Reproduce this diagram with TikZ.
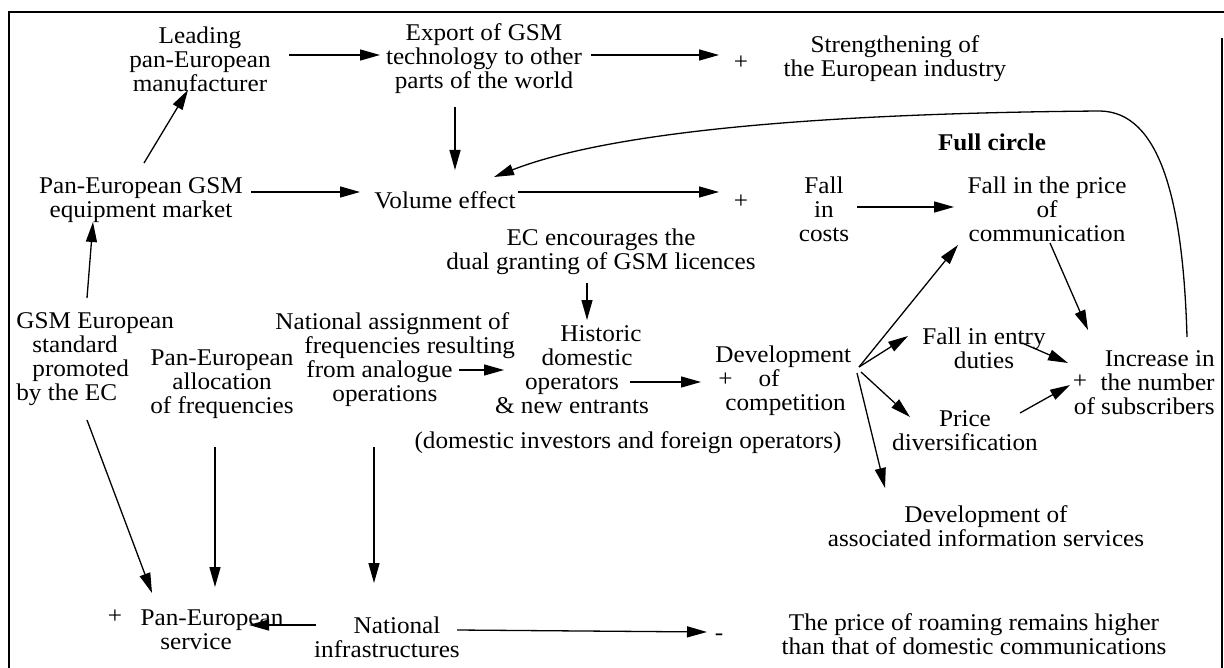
\documentclass[tikz,border=0pt]{standalone}
\usepackage{fontspec}
\setmainfont{Liberation Serif}[FakeStretch=1.05]
\usetikzlibrary{arrows.meta}

\tikzset{
  txt/.style={align=center,inner sep=1pt,font=\fontsize{12}{12}\selectfont},
  sign/.style={inner sep=0.5pt,font=\fontsize{12}{12}\selectfont},
  arr/.style={line width=0.65pt,-{Triangle[length=10pt,width=5.5pt]}},
}

\begin{document}
\begin{tikzpicture}[x=0.5pt,y=-0.5pt]
    \useasboundingbox (0,0) rectangle (1224,668);
    \draw[line width=0.8pt] (9,668) -- (9,12) -- (1224,12);
    \draw[line width=0.8pt] (1222,38) -- (1222,668);

    % upper part
    \node[txt] (lead)     at (200,59)  {Leading\\pan-European\\manufacturer};
    \node[txt] (export)   at (484,59)  {Export of GSM\\technology to other\\parts of the world};
    \node[sign] (plusA)   at (741,63)  {+};
    \node[txt] (strength) at (895,59)  {Strengthening of\\the European industry};
    \node[txt,font=\fontsize{12}{12}\selectfont\bfseries] (circ) at (992,142) {Full circle};
    \node[txt] (pangsm)   at (141,200) {Pan-European GSM\\equipment market};
    \node[txt] (volume)   at (445,200) {Volume effect};
    \node[sign] (plusB)   at (741,202) {+};
    \node[txt] (fallcost) at (824,209) {Fall\\in\\costs};
    \node[txt] (fallprice) at (1047,209) {Fall in the price\\of\\communication};
    \node[txt] (ec)       at (601,252) {EC encourages the\\dual granting of GSM licences};

    % middle part
    \node[txt,align=left,anchor=west] (gsmstd) at (14,359)
      {GSM European\\\hspace*{8pt}standard\\\hspace*{8pt}promoted\\by the EC};
    \node[txt] (panalloc) at (222,384) {Pan-European\\allocation\\of frequencies};
    \node[txt,align=left,anchor=west] (natassign) at (273,360)
      {National assignment of\\\hspace*{14.5pt}frequencies resulting\\\hspace*{15.5pt}from analogue\\\hspace*{28.5pt}operations};
    \node[txt] (historic) at (572,370)
      {\hspace*{29pt}Historic\\\hspace*{15pt}domestic\\operators\\\& new entrants};
    \node[txt] (domnote)  at (628,443) {(domestic investors and foreign operators)};
    \node[txt,align=left,anchor=west] (dev) at (713,381)
      {Development\\\hspace*{1.5pt}+\hspace*{13pt}of\\\hspace*{5pt}competition};
    \node[txt] (entry)    at (984,348) {Fall in entry\\duties};
    \node[txt] (pricediv) at (965,431) {Price\\diversification};
    \node[sign] (plusD)   at (1080,382) {+};
    \node[txt,align=right,anchor=east] (incr) at (1217,383) {Increase in\\the number\\of subscribers};
    \node[txt] (assoc)    at (986,526) {Development of\\associated information services};

    % lower part
    \node[sign] (plusE)   at (115,617) {+};
    \node[txt] (panserv)  at (212,630) {Pan-European\\service\hspace*{16pt}};
    \node[txt] (natinfra) at (387,637) {\hspace*{10pt}National\\infrastructures};
    \node[sign] (minus)   at (719,637) {-};
    \node[txt] (roam)     at (974,634) {The price of roaming remains higher\\than that of domestic communications};

    % connectors
    \draw[arr] ([shift={(89,-4)}]lead.center) -- ([shift={(-104,-4)}]export.center);
    \draw[arr] ([shift={(107,-4)}]export.center) -- ([shift={(-22,-8)}]plusA.center);
    \draw[arr] ([shift={(-29,48)}]export.center) -- ([shift={(10,-30)}]volume.center);
    \draw[arr] ([shift={(3,-37)}]pangsm.center) -- ([shift={(-12,31)}]lead.center);
    \draw[arr] ([shift={(110,-8)}]pangsm.center) -- ([shift={(-85,-8)}]volume.center);
    \draw[arr] ([shift={(73,-8)}]volume.center) -- ([shift={(-22,-10)}]plusB.center);
    \draw[arr] ([shift={(33,-2)}]fallcost.center) -- ([shift={(-93,-2)}]fallprice.center);
    \draw[arr] ([shift={(-30,-46)}]incr.east) .. controls (1183,200) and (1160,112) .. (1100,111)
      .. controls (850,113) and (620,128) .. ([shift={(49,-23)}]volume.center);
    \draw[arr] ([shift={(-14,31)}]ec.center) -- ([shift={(15,-50)}]historic.center);
    \draw[arr] ([shift={(186,10)}]natassign.west) -- ([shift={(-68,0)}]historic.center);
    \draw[arr] ([shift={(58,12)}]historic.center) -- ([shift={(-12,1)}]dev.west);
    \draw[arr] ([shift={(146,-14)}]dev.west) -- ([shift={(-89,36)}]fallprice.center);
    \draw[arr] ([shift={(146,-14)}]dev.west) -- ([shift={(-76,-12)}]entry.center);
    \draw[arr] ([shift={(148,-9)}]dev.west) -- ([shift={(-55,-14)}]pricediv.center);
    \draw[arr] ([shift={(144,-8)}]dev.west) -- ([shift={(-101,-38)}]assoc.center);
    \draw[arr] ([shift={(3,34)}]fallprice.center) -- ([shift={(-129,-53)}]incr.east);
    \draw[arr] ([shift={(38,-5)}]entry.center) -- ([shift={(-149,-20)}]incr.east);
    \draw[arr] ([shift={(55,-18)}]pricediv.center) -- ([shift={(-147,2)}]incr.east);
    \draw[arr] ([shift={(73,-61)}]gsmstd.west) -- ([shift={(-48,22)}]pangsm.center);
    \draw[arr] ([shift={(73,61)}]gsmstd.west) -- ([shift={(-60,-37)}]panserv.center);
    \draw[arr] ([shift={(-7,63)}]panalloc.center) -- ([shift={(3,-43)}]panserv.center);
    \draw[arr] ([shift={(101,87)}]natassign.west) -- ([shift={(-13,-54)}]natinfra.center);
    \draw[arr] ([shift={(-71,-12)}]natinfra.center) -- ([shift={(37,-5)}]panserv.center);
    \draw[arr] ([shift={(70,-7)}]natinfra.center) -- ([shift={(-12,-5)}]minus.center);
\end{tikzpicture}
\end{document}
